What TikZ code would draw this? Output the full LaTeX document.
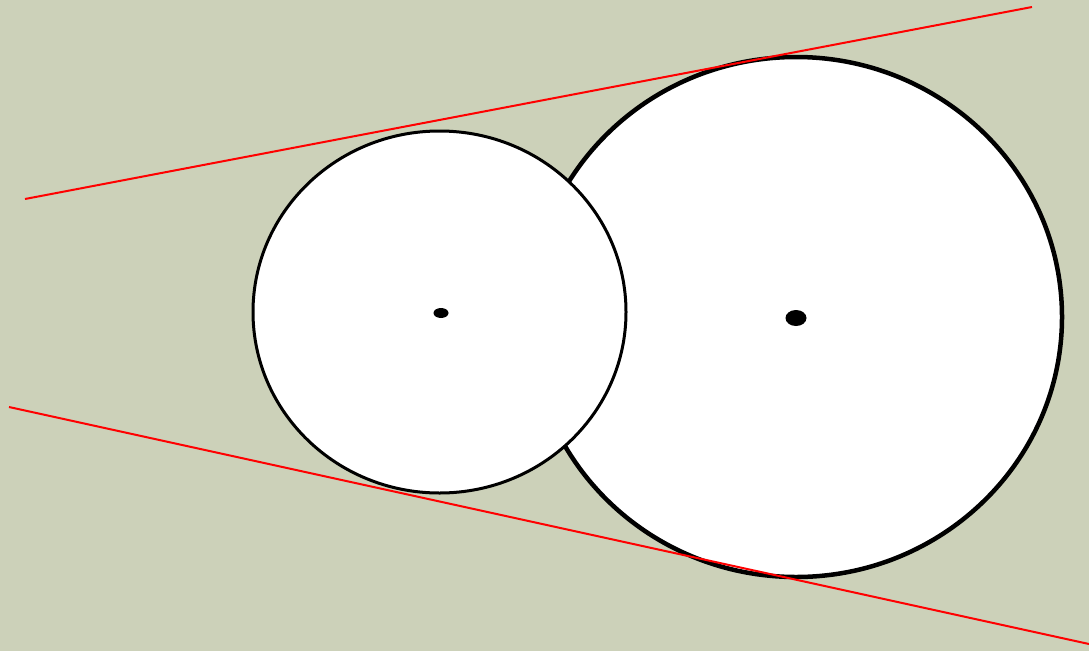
\documentclass[tikz,border=0pt]{standalone}
\definecolor{bg}{RGB}{204,209,185}
\definecolor{redline}{RGB}{255,0,0}
\tikzset{
  wheel/.style={fill=white,draw=black},
  hub/.style={fill=black,draw=none},
  tangent/.style={draw=redline,line width=2pt}
}
\begin{document}
\begin{tikzpicture}[x=1pt,y=-1pt]
\fill[bg] (0,0) rectangle (1089,651);
\useasboundingbox (0,0) rectangle (1089,651);
\coordinate (bigC) at (796,317);
\coordinate (smallC) at (439.5,312);
\draw[wheel,line width=4.5pt] (bigC) ellipse [x radius=266, y radius=260];
\draw[wheel,line width=3pt] (smallC) ellipse [x radius=186.5, y radius=181];
\fill[hub] (441,313) ellipse [x radius=7.5, y radius=5];
\fill[hub] (796,318) ellipse [x radius=10.5, y radius=8];
\coordinate (t1) at (25,199);
\coordinate (t2) at (1032,7);
\coordinate (b1) at (9,407);
\coordinate (b2) at (1089,644);
\draw[tangent] (t1) -- (t2);
\draw[tangent] (b1) -- (b2);
\end{tikzpicture}
\end{document}
